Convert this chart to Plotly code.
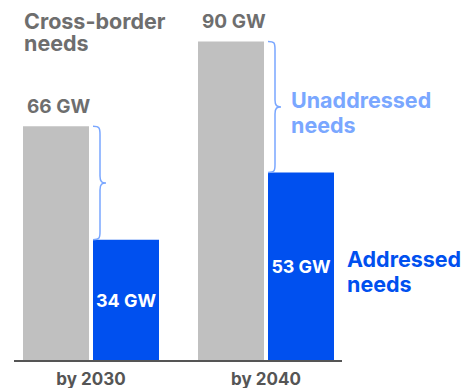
import plotly.graph_objects as go

# ---- data ----
categories = ["by 2030", "by 2040"]
total_needs = [66, 90]          # Cross-border needs (GW)
addressed = [34, 53]           # Addressed needs (GW)
total_labels = ["66 GW", "90 GW"]
addressed_labels = ["34 GW", "53 GW"]

GRAY = "#c0c0c0"
BLUE = "#0050ef"
LIGHT_BLUE = "#7aa7ff"
TEXT_GRAY = "#6e6e6e"
AXIS_GRAY = "#555555"
FONT = "Inter"

W, H = 466, 388
L, R, T, B = 14, 124, 0, 28
PW, PH = W - L - R, H - T - B
PX_PER_UNIT_X = 175.0
X_RANGE = [-0.44, -0.44 + PW / PX_PER_UNIT_X]
PX_PER_GW = 3.54
Y_RANGE = [0, PH / PX_PER_GW]

xpos = list(range(len(categories)))

fig = go.Figure()
fig.add_trace(go.Bar(x=xpos, y=total_needs, marker=dict(color=GRAY, line=dict(width=0)),
                     name="Cross-border needs", hoverinfo="skip"))
fig.add_trace(go.Bar(x=xpos, y=addressed, marker=dict(color=BLUE, line=dict(width=0)),
                     name="Addressed needs", text=addressed_labels, textposition="inside",
                     insidetextanchor="middle", textangle=0,
                     textfont=dict(family=FONT, size=18.5, color="white", weight="bold"),
                     hoverinfo="skip"))

def dx(px):
    return px / PX_PER_UNIT_X

def dy(px):
    return px / PX_PER_GW

def brace(x0, ytop, ybot):
    ym = (ytop + ybot) / 2
    xa = x0 + dx(7)
    xt = x0 + dx(13)
    p = (f"M {x0},{ytop} "
         f"C {x0 + dx(6)},{ytop} {xa},{ytop - dy(1)} {xa},{ytop - dy(8)} "
         f"L {xa},{ym + dy(7)} "
         f"C {xa},{ym + dy(1)} {x0 + dx(9)},{ym} {xt},{ym} "
         f"C {x0 + dx(9)},{ym} {xa},{ym - dy(1)} {xa},{ym - dy(7)} "
         f"L {xa},{ybot + dy(8)} "
         f"C {xa},{ybot + dy(1)} {x0 + dx(6)},{ybot} {x0},{ybot}")
    return p

shapes = []
for i in xpos:
    shapes.append(dict(type="path", xref="x", yref="y",
                       path=brace(i + dx(2), total_needs[i], addressed[i]),
                       line=dict(color=LIGHT_BLUE, width=1.5)))

annotations = []
# value labels above gray bars
for i in xpos:
    annotations.append(dict(x=i - dx(66), y=total_needs[i], xref="x", yref="y",
                            text=total_labels[i], showarrow=False, xanchor="left",
                            yanchor="bottom", yshift=6,
                            font=dict(family=FONT, size=19, color=TEXT_GRAY, weight="bold")))

def line_note(text, xpx, ybase_px, size, color, box_h=None):
    extra = {}
    if box_h:
        extra = dict(height=box_h, valign="middle")
        ybox = ybase_px + 0.41 * size - (1.3 * size - box_h) / 2
    else:
        ybox = ybase_px + 0.41 * size
    annotations.append(dict(x=(xpx - L) / PW, y=(H - B - ybox) / PH,
                            xref="paper", yref="paper",
                            text=text, showarrow=False, xanchor="left", yanchor="bottom",
                            font=dict(family=FONT, size=size, color=color, weight="bold"),
                            **extra))

line_note("Cross-border", 22, 28.5, 21.5, TEXT_GRAY, box_h=20)
line_note("needs", 22, 50, 21.5, TEXT_GRAY, box_h=20)
line_note("Unaddressed", 289, 106, 21.5, LIGHT_BLUE)
line_note("needs", 289, 131.5, 21.5, LIGHT_BLUE)
line_note("Addressed", 345, 265.5, 21.5, BLUE)
line_note("needs", 345, 290.5, 21.5, BLUE)

fig.update_layout(
    width=W, height=H,
    margin=dict(l=L, r=R, t=T, b=B, pad=0),
    paper_bgcolor="white", plot_bgcolor="white",
    barmode="group", bargap=0.2, bargroupgap=0.0571,
    showlegend=False, uniformtext=dict(minsize=10, mode="show"),
    shapes=shapes, annotations=annotations,
    xaxis=dict(range=X_RANGE, tickmode="array", tickvals=xpos, ticktext=categories,
               showgrid=False, zeroline=False, showline=True, linecolor=AXIS_GRAY,
               linewidth=1.5, ticks="", fixedrange=True, ticklabelstandoff=3,
               tickfont=dict(family=FONT, size=17, color=AXIS_GRAY, weight="bold")),
    yaxis=dict(range=Y_RANGE, visible=False, showgrid=False, zeroline=False, fixedrange=True),
)

fig.write_html("out.html")
